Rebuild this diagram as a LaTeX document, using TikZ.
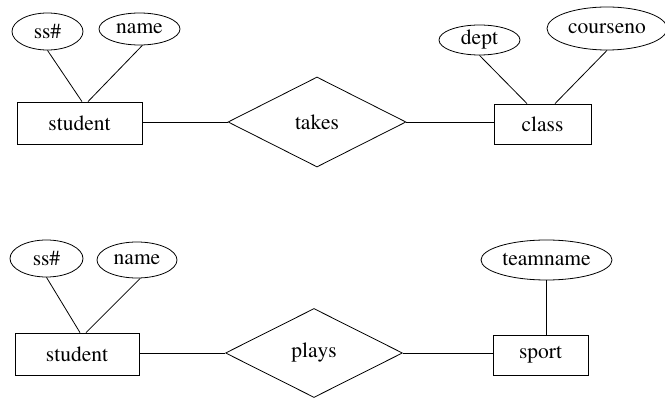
\documentclass[tikz,border=0pt]{standalone}
\usepackage[T1]{fontenc}
\usepackage{mathptmx}
\usetikzlibrary{shapes.geometric}

\begin{document}
\begin{tikzpicture}[x=1pt, y=-1pt, line width=0.8pt,
  font=\fontsize{21.5}{25}\selectfont,
  entity/.style={draw, rectangle, inner sep=0pt},
  attrib/.style={draw, ellipse, inner sep=0pt},
  relship/.style={draw, diamond, inner sep=0pt, minimum width=178pt, minimum height=90pt}]
\useasboundingbox (0, 0) rectangle (665, 398);
% first diagram
\node [entity, minimum width=125pt, minimum height=42pt] (student1) at (79.5, 123) {student};
\node [entity, minimum width=97pt, minimum height=40pt] (class) at (542.5, 124) {class};
\node [relship] (takes) at (317, 122) {takes};
\node [attrib, minimum width=71pt, minimum height=37pt] (ss1) at (47.5, 31.5) {ss\#};
\node [attrib, minimum width=81pt, minimum height=32pt] (name1) at (139.5, 29) {name};
\node [attrib, minimum width=81pt, minimum height=30pt] (dept) at (479.5, 40) {dept};
\node [attrib, minimum width=120pt, minimum height=43pt] (courseno) at (607, 28.5) {courseno};
\draw (student1.east |- takes) -- (takes.west);
\draw (takes.east) -- (class.west |- takes);
\draw (ss1.south) -- ([xshift=2.5pt]student1.north);
\draw (name1.-80) -- ([xshift=8.5pt]student1.north);
\draw (dept.south) -- ([xshift=-15.5pt]class.north);
\draw (courseno.south) -- ([xshift=12.5pt]class.north);
% second diagram
\node [entity, minimum width=124pt, minimum height=42pt] (student2) at (77, 354) {student};
\node [entity, minimum width=95pt, minimum height=40pt] (sport) at (540.5, 355) {sport};
\node [relship, minimum width=177pt, minimum height=89pt] (plays) at (314, 353) {plays};
\node [attrib, minimum width=73pt, minimum height=37pt] (ss2) at (46.5, 258.5) {ss\#};
\node [attrib, minimum width=80pt, minimum height=36pt] (name2) at (137, 260) {name};
\node [attrib, minimum width=131pt, minimum height=40pt] (teamname) at (546.5, 260) {teamname};
\draw (student2.east |- plays) -- (plays.west);
\draw (plays.east) -- (sport.west |- plays);
\draw (ss2.south) -- ([xshift=3pt]student2.north);
\draw (name2.-80) -- ([xshift=9pt]student2.north);
\draw (teamname.south) -- (teamname.south |- sport.north);
\end{tikzpicture}
\end{document}
